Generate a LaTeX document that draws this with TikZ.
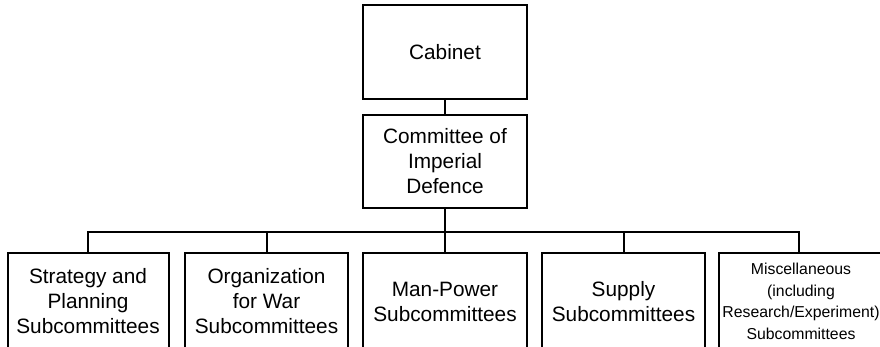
\documentclass[tikz,border=0pt]{standalone}
\usepackage{fontspec}
\setmainfont{Liberation Sans}
\begin{document}
\begin{tikzpicture}[x=1pt,y=-1pt,
  box/.style={draw=black, line width=2pt, rectangle, minimum width=164pt, align=center, inner sep=0pt, font=\fontsize{20.8}{25}\selectfont},
  low/.style={box, minimum height=97pt},
  link/.style={draw=black, line width=2pt}]
\useasboundingbox (0,0) rectangle (880,346);
\clip (0,0) rectangle (880,346);
\node[box, minimum height=94pt] (cab) at (445,52) {Cabinet};
\node[box, minimum height=93pt] (cid) at (445,161.5) {Committee of\\Imperial\\Defence};
\node[low, minimum width=161pt] (b1) at (88,301.5) {Strategy and\\Planning\\Subcommittees};
\node[low, minimum width=163pt] (b2) at (266.5,301.5) {Organization\\for War\\Subcommittees};
\node[low] (b3) at (445,301.5) {Man-Power\\Subcommittees};
\node[low, minimum width=163pt] (b4) at (623.5,301.5) {Supply\\Subcommittees};
\node[low, minimum width=170pt, font=\fontsize{15.8}{21.5}\selectfont] (b5) at (804,301.5) {\hspace*{-6pt}\parbox{158pt}{\centering Miscellaneous\\(including\\Research/Experiment)\\Subcommittees}};
\coordinate (bus) at (445,232);
\coordinate (b5top) at ([xshift=-5pt]b5.north);
\draw[link] (cab.south) -- (cid.north);
\draw[link] (cid.south) -- (bus);
\draw[link] (b1.north) -- (b1.north |- bus) -- (b5top |- bus) -- (b5top);
\draw[link] (b2.north) -- (b2.north |- bus);
\draw[link] (b3.north) -- (bus);
\draw[link] (b4.north) -- (b4.north |- bus);
\end{tikzpicture}
\end{document}
